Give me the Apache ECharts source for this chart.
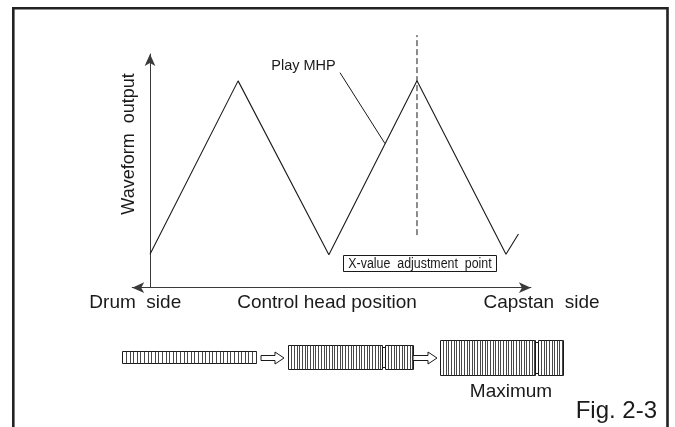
<!DOCTYPE html>
<html>
<head>
<meta charset="utf-8">
<script src="https://cdn.jsdelivr.net/npm/echarts@6/dist/echarts.min.js"></script>
<style>html,body{margin:0;padding:0;background:#fff}#c{width:675px;height:427px}</style>
</head>
<body>
<div id="c"></div>
<script>
// ---- data ----
const waveX = [0, 0.99, 2.01, 3.0, 4.0, 4.14];          // control head position (half-cycles)
const waveY = [1.43, 8.85, 1.41, 8.86, 1.43, 2.30];      // waveform output
const adjustX = 3.0;                                     // X-value adjustment point
const adjustY = [2.25, 10.81];
const leaderX = [2.135, 2.64];                           // "Play MHP" leader
const leaderY = [9.2, 6.17];
const axisLabels = ['Drum  side', 'Control head position', 'Capstan  side'];
const yTitle = 'Waveform  output';
const curveLabel = 'Play MHP';
const pointLabel = 'X-value  adjustment  point';
const envLabel = 'Maximum';
const figLabel = 'Fig. 2-3';

const FONT = '"Liberation Sans", Arial, Helvetica, sans-serif';
const INK = '#1a1a1a';

const chart = echarts.init(document.getElementById('c'), null, {renderer: 'canvas'});

function zip(a, b) { return a.map((v, i) => [v, b[i]]); }

// striped envelope bars (illustrations)
function stripedBar(x0, x1, yTop, h, step, notchX) {
  const els = [];
  const segs = notchX ? [[x0, notchX - 1.5], [notchX + 1.5, x1]] : [[x0, x1]];
  if (notchX) {
    els.push({type: 'rect', shape: {x: notchX - 1.5, y: yTop + 2, width: 3, height: h - 4},
      style: {fill: '#fff', stroke: INK, lineWidth: 1}});
  }
  segs.forEach(s => {
    els.push({type: 'rect', shape: {x: s[0], y: yTop, width: s[1] - s[0], height: h},
      style: {fill: '#fff', stroke: INK, lineWidth: 1}});
    for (let x = s[0] + step; x < s[1] - 0.8; x += step) {
      const xx = Math.round(x) + 0.5;
      els.push({type: 'line', shape: {x1: xx, y1: yTop, x2: xx, y2: yTop + h},
        style: {stroke: '#333', lineWidth: 0.9}});
    }
  });
  return els;
}
function hollowArrow(x0, x1, yc) {
  const hx = x1 - 9;
  return {type: 'polygon', shape: {points: [
    [x0, yc - 2.5], [hx, yc - 2.5], [hx, yc - 6], [x1, yc], [hx, yc + 6], [hx, yc + 2.5], [x0, yc + 2.5]
  ]}, style: {fill: '#fff', stroke: INK, lineWidth: 1}};
}
function txt(s, x, y, size, align, extra) {
  return Object.assign({type: 'text', x: x, y: y, silent: true,
    style: {text: s, fill: INK, font: size + 'px ' + FONT, textAlign: align || 'center', textVerticalAlign: 'middle'}}, extra || {});
}

const graphics = [
  {type: 'rect', shape: {x: 13.3, y: 8.2, width: 654.2, height: 500}, style: {fill: 'none', stroke: '#222', lineWidth: 2.6}, z: 0},
  txt(yTitle, 129.5, 144, 18, 'center', {rotation: Math.PI / 2}),
  txt(curveLabel, 303.5, 65.7, 14.5),
  {type: 'group', children: [
    {type: 'rect', shape: {x: 343.5, y: 255.5, width: 153, height: 16}, style: {fill: '#fff', stroke: INK, lineWidth: 1}},
    txt(pointLabel, 420, 264, 15.5, 'center', {scaleX: 0.8})
  ]},
  txt(axisLabels[0], 135.3, 303, 19),
  txt(axisLabels[1], 327, 303, 19),
  txt(axisLabels[2], 541.5, 303, 19),
  txt(envLabel, 511, 391.5, 19),
  txt(figLabel, 657, 411.5, 24, 'right')
]
.concat(stripedBar(122.5, 256.5, 351.5, 12, 3.6))
.concat([hollowArrow(261, 284, 358)])
.concat(stripedBar(288.5, 413.5, 345.5, 24, 2.7, 384))
.concat([hollowArrow(413, 437, 358)])
.concat(stripedBar(440.5, 563.5, 340.5, 35, 2.6, 537));

chart.setOption({
  backgroundColor: '#fff',
  animation: false,
  grid: {left: 132.2, right: 144.1, top: 54, bottom: 139.3, containLabel: false},
  xAxis: {
    type: 'value', min: -0.2, max: 4.28,
    axisLine: {show: true, onZero: true, symbol: ['arrow', 'arrow'], symbolSize: [8, 12],
      lineStyle: {color: '#3a3a3a', width: 1}},
    axisTick: {show: false}, axisLabel: {show: false}, splitLine: {show: false}
  },
  yAxis: {
    type: 'value', min: 0, max: 10,
    axisLine: {show: true, onZero: true, symbol: ['none', 'arrow'], symbolSize: [8, 12],
      lineStyle: {color: '#3a3a3a', width: 1}},
    axisTick: {show: false}, axisLabel: {show: false}, splitLine: {show: false}
  },
  series: [
    {type: 'line', data: zip(waveX, waveY), symbol: 'none', clip: false,
      lineStyle: {color: INK, width: 1.1}, z: 3},
    {type: 'line', data: zip([adjustX, adjustX], adjustY), symbol: 'none', clip: false,
      lineStyle: {color: INK, width: 1, type: [6, 3]}, z: 2},
    {type: 'line', data: zip(leaderX, leaderY), symbol: 'none', clip: false,
      lineStyle: {color: INK, width: 1}, z: 2}
  ],
  graphic: graphics
});
</script>
</body>
</html>
